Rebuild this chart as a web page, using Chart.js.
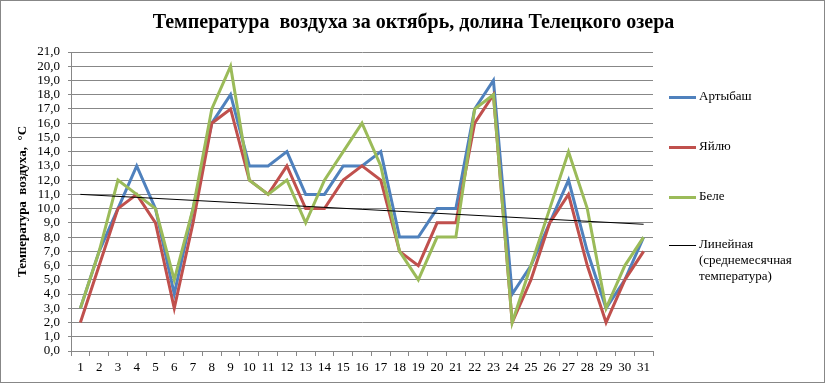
<!DOCTYPE html>
<html><head><meta charset="utf-8">
<script src="https://cdn.jsdelivr.net/npm/chart.js@4.4.0/dist/chart.umd.min.js"></script>
<style>
html,body{margin:0;padding:0;background:#fff;}
#wrap{position:relative;width:825px;height:383px;box-sizing:border-box;border:1px solid #878787;overflow:hidden;}
#c{position:absolute;left:0;top:0;}
#title{position:absolute;left:0;top:9px;width:825px;text-align:center;font:bold 20px "Liberation Serif",serif;color:#000;}
.lg{position:absolute;left:668px;font:13px "Liberation Serif",serif;color:#000;}
.lg .sw{position:absolute;left:0;width:27px;}
.lg .tx{position:absolute;left:30px;white-space:nowrap;line-height:16px;}
</style></head><body>
<div id="wrap">
<canvas id="c" width="825" height="383"></canvas>
<div id="title">Температура&nbsp; воздуха за октябрь, долина Телецкого озера</div>
<div id="legend"></div>
</div>
<script>
const days = Array.from({length:31},(_,i)=>String(i+1));
const artybash = [3,7,10,13,10,4,10,16,18,13,13,14,11,11,13,13,14,8,8,10,10,17,19,4,6,9,12,7,3,5,8];
const yailu    = [2,6,10,11,9,3,9,16,17,12,11,13,10,10,12,13,12,7,6,9,9,16,18,2,5,9,11,6,2,5,7];
const bele     = [3,7,12,11,10,5,10,17,20,12,11,12,9,12,14,16,13,7,5,8,8,17,18,2,6,10,14,10,3,6,8];
const trendStart = 11.0, trendEnd = 8.9;
const seriesNames = ['Артыбаш','Яйлю','Беле','Линейная (среднемесячная температура)'];
const colors = ['#4F81BD','#C0504D','#9BBB59','#000000'];

const trend = days.map((d,i)=> i===0 ? trendStart : (i===days.length-1 ? trendEnd : null));
const grey = '#878787';
const ds = (label,data,color,w,order)=>({label,data,borderColor:color,backgroundColor:color,borderWidth:w,pointRadius:0,tension:0,fill:false,order,spanGaps:true});

new Chart(document.getElementById('c'),{
  type:'line',
  data:{labels:days,datasets:[
    ds(seriesNames[0],artybash,colors[0],3,3),
    ds(seriesNames[1],yailu,colors[1],3,2),
    ds(seriesNames[2],bele,colors[2],3,1),
    ds(seriesNames[3],trend,colors[3],1,0)
  ]},
  options:{
    responsive:false,animation:false,
    layout:{padding:{top:51,right:173,bottom:8,left:14}},
    plugins:{legend:{display:false},title:{display:false},tooltip:{enabled:false}},
    scales:{
      x:{offset:true,
         grid:{display:true,drawOnChartArea:false,drawTicks:true,tickLength:5,color:grey,offset:true},
         border:{display:true,color:grey},
         ticks:{color:'#000',font:{family:'Liberation Serif',size:13},padding:4,maxRotation:0,autoSkip:false},
         afterFit(s){s.height=25;}
      },
      y:{min:0,max:21,
         grid:{color:grey,tickLength:3,drawTicks:true},
         border:{display:true,color:grey},
         ticks:{stepSize:1,autoSkip:false,color:'#000',font:{family:'Liberation Serif',size:13},padding:8,
                callback:v=>v.toFixed(1).replace('.',',')},
         title:{display:true,text:'Температура  воздуха,  °С',color:'#000',font:{family:'Liberation Serif',size:13,weight:'bold'},padding:{top:0,bottom:6}},
         afterFit(s){s.width=56;}
      }
    }
  }
});

// HTML legend
const lg = document.getElementById('legend');
const ys = [96,146,196,244];
const texts = [[seriesNames[0]],[seriesNames[1]],[seriesNames[2]],['Линейная','(среднемесячная','температура)']];
texts.forEach((t,i)=>{
  const d=document.createElement('div');d.className='lg';d.style.top=ys[i]+'px';
  const w = i===3?1:3;
  d.innerHTML='<div class="sw" style="top:'+(-w/2)+'px;height:'+w+'px;background:'+colors[i]+'"></div>'+
    '<div class="tx" style="top:-9px">'+t.join('<br>')+'</div>';
  lg.appendChild(d);
});
</script>
</body></html>
